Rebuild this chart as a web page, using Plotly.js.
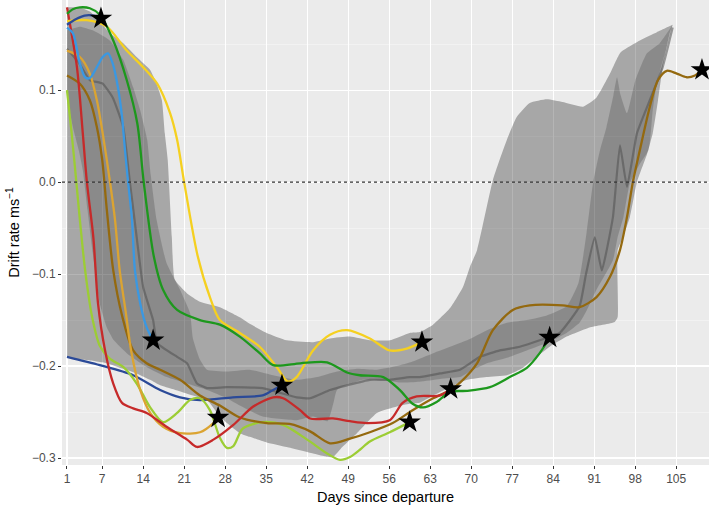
<!DOCTYPE html>
<html>
<head>
<meta charset="utf-8">
<script src="https://cdn.plot.ly/plotly-3.0.1.min.js"></script>
<style>html,body{margin:0;padding:0;background:#fff;}#chart{width:709px;height:510px;}</style>
</head>
<body>
<div id="chart"></div>
<script>
// ---- axis ticks ----
const xTicks = [1, 7, 14, 21, 28, 35, 42, 49, 56, 63, 70, 77, 84, 91, 98, 105];
const yTicks = [-0.3, -0.2, -0.1, 0.0, 0.1];
const yTickText = ['\u22120.3', '\u22120.2', '\u22120.1', '0.0', '0.1'];
const yMinor = [-0.25, -0.15, -0.05, 0.05, 0.15];

// ---- outer (light) ribbon ----
const outerUpDays = [1, 3, 5, 7, 8.3, 10.6, 12.9, 15.2, 16.3, 17.2, 17.7, 18.2, 18.9, 19.4, 21.5, 23.7, 27.1, 30.5, 32.2, 35.1, 38.5, 43, 45.9, 49.3, 52.7, 56.1, 59.5, 61.2, 63.5, 66.4, 68.6, 69.8, 71, 73.7, 76.1, 77.8, 80, 82.9, 85.6, 89.1, 91.4, 93.7, 95.5, 98.8, 101.7, 104.4];
const outerUpVals = [0.19, 0.19, 0.185, 0.172, 0.162, 0.151, 0.136, 0.122, 0.107, 0.089, 0.053, 0.024, -0.06, -0.106, -0.121, -0.130, -0.136, -0.147, -0.154, -0.164, -0.172, -0.174, -0.170, -0.168, -0.172, -0.172, -0.164, -0.163, -0.155, -0.137, -0.114, -0.092, -0.074, 0.002, 0.046, 0.071, 0.086, 0.090, 0.087, 0.082, 0.092, 0.118, 0.141, 0.154, 0.163, 0.171];
const outerLowDays = [1, 3, 5, 7, 8.3, 10.6, 12.9, 15.2, 16.9, 19, 21.5, 24.9, 27.1, 28.3, 30.5, 32.2, 35.1, 38.5, 43, 45, 46.4, 48, 50.5, 53.9, 57.3, 59.5, 61.2, 63.5, 66.4, 69.3, 72.6, 76.1, 78.8, 81.2, 83.4, 86.3, 90.2, 94.5, 95, 95, 95.9, 97.1, 98.3, 100, 101, 101.9, 102.7, 103.9, 104.4];
const outerLowVals = [-0.19, -0.193, -0.194, -0.196, -0.198, -0.203, -0.208, -0.215, -0.221, -0.225, -0.23, -0.237, -0.255, -0.262, -0.273, -0.277, -0.283, -0.288, -0.295, -0.298, -0.299, -0.288, -0.273, -0.251, -0.244, -0.241, -0.240, -0.232, -0.223, -0.215, -0.212, -0.210, -0.202, -0.190, -0.179, -0.168, -0.158, -0.152, -0.147, -0.074, -0.060, -0.038, 0.0, 0.030, 0.053, 0.089, 0.125, 0.162, 0.171];

// ---- inner (dark) ribbon ----
const innerUpDays = [1, 3.2, 5.4, 8.3, 10.6, 12.3, 13.5, 14.7, 15.3, 16.3, 18, 20.3, 22, 22.5, 23.7, 24.9, 28.3, 32.2, 36.2, 40.2, 43.7, 47.1, 50.5, 53.9, 57.3, 60, 63.5, 66.4, 69.3, 72.7, 76.1, 79.5, 82.9, 86.3, 88.3, 89.7, 90.8, 92, 93.1, 94.3, 94.9, 95.5, 96.6, 98, 100, 102.2, 104.4];
const innerUpVals = [0.165, 0.169, 0.165, 0.154, 0.133, 0.103, 0.078, 0.046, 0.008, -0.041, -0.088, -0.117, -0.142, -0.170, -0.193, -0.204, -0.206, -0.204, -0.210, -0.215, -0.212, -0.206, -0.203, -0.204, -0.200, -0.195, -0.186, -0.179, -0.172, -0.161, -0.153, -0.150, -0.145, -0.135, -0.110, -0.055, -0.001, 0.035, 0.060, 0.095, 0.114, 0.095, 0.075, 0.110, 0.140, 0.151, 0.171];
const innerLowDays = [1, 2, 3, 3.7, 4.5, 5.4, 6.6, 7.8, 9, 11.2, 14.6, 18, 21.5, 24.9, 28.3, 30.5, 34.4, 40.2, 43, 45.5, 46.5, 47.1, 51.5, 56, 57.8, 61.2, 64.7, 68.1, 70.3, 72.7, 76.1, 79.5, 82.9, 86.3, 88.5, 89.7, 91.4, 94.2, 95, 96, 97.1, 98.8, 100.3, 101, 101.7, 103.9, 104.4];
const innerLowVals = [0.09, 0.06, 0.035, 0.013, -0.03, -0.077, -0.132, -0.158, -0.172, -0.186, -0.201, -0.212, -0.219, -0.226, -0.235, -0.243, -0.255, -0.259, -0.255, -0.260, -0.240, -0.226, -0.215, -0.216, -0.218, -0.217, -0.214, -0.212, -0.204, -0.197, -0.191, -0.183, -0.175, -0.164, -0.153, -0.140, -0.117, -0.085, -0.060, -0.038, -0.001, 0.020, 0.035, 0.078, 0.108, 0.158, 0.171];

// ---- median line ----
const medDays = [1, 3, 4.9, 7.1, 8.8, 10.6, 11.7, 12.9, 14, 15.7, 16.4, 19.8, 21.5, 23.2, 24.9, 28.3, 34.4, 40.2, 42.5, 45.9, 48.8, 52.7, 56.1, 59.5, 61.2, 64.7, 68.1, 71.5, 74.9, 78.3, 81.7, 85.1, 88.5, 89.6, 91.1, 92.3, 94.2, 95.4, 96.6, 98.3, 100.5, 102.7, 104.4];
const medVals = [0.145, 0.13, 0.111, 0.107, 0.092, 0.060, 0.002, -0.060, -0.114, -0.150, -0.175, -0.190, -0.197, -0.219, -0.224, -0.223, -0.224, -0.234, -0.235, -0.226, -0.221, -0.215, -0.215, -0.212, -0.212, -0.208, -0.204, -0.190, -0.183, -0.179, -0.172, -0.164, -0.135, -0.100, -0.060, -0.096, -0.038, 0.040, -0.005, 0.053, 0.089, 0.125, 0.168];

// ---- individual tracks ----
const navyTopDays = [1, 2.5, 4, 5.5, 6.8];
const navyTopVals = [0.171, 0.177, 0.181, 0.181, 0.178];

const navyDays = [1, 6.6, 12.3, 16.9, 20.3, 23.7, 29.3, 34.4, 36.2, 37.7];
const navyVals = [-0.190, -0.199, -0.210, -0.226, -0.234, -0.237, -0.234, -0.232, -0.226, -0.221];

const blueDays = [1, 2, 3.2, 4.1, 4.9, 6.1, 7.1, 8, 8.8, 9.7, 10.4, 10.9, 11.4, 12.1, 12.6, 13.5, 14.6, 15.7];
const blueVals = [0.168, 0.162, 0.129, 0.114, 0.113, 0.125, 0.136, 0.140, 0.129, 0.103, 0.071, 0.035, 0.002, -0.041, -0.096, -0.132, -0.158, -0.172];

const greenDays = [1, 2, 3.2, 4.9, 6.6, 8.9, 11.2, 13, 14.1, 15.8, 17.4, 19.8, 23.7, 27.1, 30.5, 33.9, 36.2, 40.8, 45.4, 48.8, 51, 55, 57.8, 60, 61.8, 64.1, 66.4, 69.3, 73.2, 76.6, 79.5, 81.7, 83.4];
const greenVals = [0.183, 0.188, 0.190, 0.189, 0.182, 0.154, 0.111, 0.064, 0.0, -0.080, -0.117, -0.139, -0.150, -0.155, -0.168, -0.186, -0.199, -0.197, -0.196, -0.207, -0.210, -0.212, -0.226, -0.241, -0.245, -0.239, -0.228, -0.227, -0.223, -0.212, -0.202, -0.186, -0.169];

const yellowDays = [1, 4.4, 7.8, 11.2, 14, 16.4, 18.6, 19.8, 21, 23.3, 25.4, 27.1, 30.5, 33.9, 36.8, 38.7, 40.2, 43, 45.9, 48.8, 52.7, 56.1, 59, 61.6];
const yellowVals = [0.175, 0.176, 0.169, 0.143, 0.125, 0.107, 0.075, 0.046, 0.0, -0.080, -0.125, -0.150, -0.164, -0.179, -0.201, -0.217, -0.212, -0.183, -0.166, -0.161, -0.170, -0.183, -0.181, -0.174];

const redDays = [1, 2.7, 3.7, 4.4, 5.5, 6.3, 7.5, 8.9, 10.4, 12.3, 14.6, 18, 21.5, 23.2, 26, 29.4, 32.8, 36.2, 37.9, 40.8, 42.5, 46.4, 49.3, 52.2, 56.1, 58.3, 60.7, 64.7, 66.5];
const redVals = [0.190, 0.125, 0.053, 0.0, -0.060, -0.132, -0.183, -0.219, -0.240, -0.246, -0.251, -0.266, -0.280, -0.288, -0.280, -0.264, -0.244, -0.234, -0.235, -0.248, -0.257, -0.257, -0.260, -0.262, -0.259, -0.240, -0.233, -0.232, -0.225];

const goldDays = [1, 3.2, 4.9, 6.1, 7.1, 8.3, 9.2, 10, 11, 12, 13.5, 15.2, 17.4, 20.3, 23.7, 26, 26.8];
const goldVals = [0.143, 0.136, 0.118, 0.089, 0.053, 0.002, -0.041, -0.096, -0.140, -0.185, -0.226, -0.251, -0.266, -0.273, -0.272, -0.262, -0.256];

const limeDays = [1, 1.8, 2.6, 3.2, 4.1, 5.3, 6.6, 8.3, 10.6, 12.9, 15.2, 17.4, 19.8, 22, 23.7, 25.4, 27.1, 28.3, 29.4, 31, 34.4, 37.9, 42, 45.4, 47.6, 49.3, 51, 52.7, 56.1, 59.5];
const limeVals = [0.100, 0.053, 0.0, -0.041, -0.096, -0.147, -0.178, -0.192, -0.201, -0.219, -0.245, -0.261, -0.251, -0.237, -0.235, -0.248, -0.278, -0.289, -0.287, -0.268, -0.261, -0.264, -0.280, -0.295, -0.302, -0.299, -0.291, -0.282, -0.272, -0.261];

const brownDays = [1, 3.2, 4.9, 6.1, 7, 7.8, 8.9, 10.4, 12.3, 14.6, 16.9, 20.3, 23.7, 27.1, 30.5, 35.1, 39, 42.5, 45.9, 49.3, 52.7, 56.6, 60, 63.5, 66.5, 68.1, 71, 73.7, 77.1, 80, 85.6, 88.5, 91.4, 93.7, 95.4, 96.6, 97.6, 98.8, 100.5, 101.9, 103.4, 105.1, 106.8, 108.2, 109.4];
const brownVals = [0.116, 0.107, 0.089, 0.060, 0.025, -0.030, -0.096, -0.145, -0.183, -0.197, -0.204, -0.215, -0.232, -0.243, -0.256, -0.262, -0.263, -0.271, -0.284, -0.279, -0.272, -0.262, -0.248, -0.235, -0.226, -0.218, -0.197, -0.161, -0.139, -0.134, -0.134, -0.136, -0.125, -0.103, -0.074, -0.038, 0.0, 0.035, 0.082, 0.111, 0.121, 0.118, 0.114, 0.116, 0.122];

const tracks = [
  {d: navyDays, v: navyVals, c: '#2b4a98'},
  {d: limeDays, v: limeVals, c: '#9ccd34'},
  {d: brownDays, v: brownVals, c: '#94690f'},
  {d: goldDays, v: goldVals, c: '#dba432'},
  {d: redDays, v: redVals, c: '#c62a2a'},
  {d: blueDays, v: blueVals, c: '#3a98e2'},
  {d: yellowDays, v: yellowVals, c: '#f5d020'},
  {d: greenDays, v: greenVals, c: '#1d981d'},
  {d: navyTopDays, v: navyTopVals, c: '#2b4a98'}
];

function ribbon(upD, upV, loD, loV, color) {
  return {
    x: upD.concat(loD.slice().reverse()),
    y: upV.concat(loV.slice().reverse()),
    type: 'scatter', mode: 'lines', fill: 'toself',
    fillcolor: color, line: {width: 0, shape: 'spline', smoothing: 0.45}, hoverinfo: 'skip', showlegend: false
  };
}

const traces = [];
traces.push(ribbon(outerUpDays, outerUpVals, outerLowDays, outerLowVals, 'rgba(0,0,0,0.29)'));
traces.push(ribbon(innerUpDays, innerUpVals, innerLowDays, innerLowVals, 'rgba(0,0,0,0.17)'));
traces.push({x: medDays, y: medVals, type: 'scatter', mode: 'lines',
  line: {color: 'rgba(80,80,80,0.55)', width: 2.2, shape: 'spline', smoothing: 0.4}, showlegend: false, hoverinfo: 'skip'});

tracks.forEach(t => {
  traces.push({x: t.d, y: t.v, type: 'scatter', mode: 'lines',
    line: {color: t.c, width: 2.3, shape: 'spline', smoothing: 0.8}, showlegend: false});
});

traces.push({
  x: tracks.map(t => t.d[t.d.length - 1]),
  y: tracks.map(t => t.v[t.v.length - 1]),
  type: 'scatter', mode: 'markers',
  marker: {symbol: 'star', size: 17, color: '#000', line: {width: 0}},
  showlegend: false
});

const layout = {
  width: 709, height: 510,
  margin: {l: 62, r: 0, t: 0, b: 45},
  paper_bgcolor: '#ffffff', plot_bgcolor: '#EBEBEB',
  font: {family: 'Liberation Sans, Arial, sans-serif', color: '#000'},
  showlegend: false,
  xaxis: {
    range: [0.15, 110.6], tickmode: 'array', tickvals: xTicks, ticktext: xTicks.map(String),
    showgrid: true, gridcolor: '#ffffff', gridwidth: 1.1, zeroline: false, showline: false,
    ticks: 'outside', ticklen: 3, tickwidth: 1, tickcolor: '#333333',
    tickfont: {size: 12, color: '#4d4d4d'},
    title: {text: 'Days since departure', font: {size: 14.5, color: '#000'}, standoff: 6}
  },
  yaxis: {
    range: [-0.3076, 0.198], tickmode: 'array', tickvals: yTicks, ticktext: yTickText,
    showgrid: true, gridcolor: '#ffffff', gridwidth: 1.1, zeroline: false, showline: false,
    ticks: 'outside', ticklen: 3, tickwidth: 1, tickcolor: '#333333',
    tickfont: {size: 12, color: '#4d4d4d'},
    minor: {tickvals: yMinor, showgrid: true, gridcolor: '#f6f6f6', gridwidth: 0.6, ticks: ''},
    title: {text: 'Drift rate ms<sup>\u22121</sup>', font: {size: 14.5, color: '#000'}, standoff: 8}
  },
  shapes: [{
    type: 'line', xref: 'paper', x0: 0, x1: 1, yref: 'y', y0: 0, y1: 0,
    line: {color: '#333333', width: 1.2, dash: 'dot'}, layer: 'above'
  }]
};

Plotly.newPlot('chart', traces, layout, {displayModeBar: false, staticPlot: true});
</script>
</body>
</html>
